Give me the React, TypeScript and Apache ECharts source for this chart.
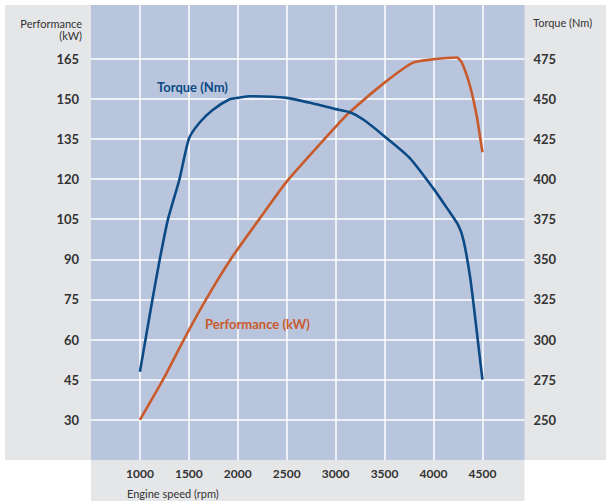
import React, { useEffect, useRef } from "react";
import * as echarts from "echarts";

// Performance (kW) curve: engine speed (rpm) and power
const perfRpm = [1000, 1236, 1449, 1676, 1946, 2220, 2500, 3000, 3146, 3500, 3786, 4000, 4238, 4289, 4374, 4442, 4500];
const perfKW = [30, 45, 60, 75, 91, 105, 119, 139.5, 145, 156, 163.4, 164.7, 165.4, 163.5, 154.6, 143.4, 130];

// Torque (Nm) curve
const torqueRpm = [1000, 1057, 1128, 1203, 1287, 1405, 1500, 1608, 1743, 1912, 2000, 2130, 2500, 2770, 3000, 3146, 3282, 3500, 3758, 4000, 4136, 4255, 4306, 4374, 4425, 4500];
const torqueNm = [280, 300, 325, 350, 375, 400, 425, 435, 443, 449.5, 450.5, 451.5, 450.5, 447, 443.5, 441.5, 437, 426.5, 413, 394, 382, 371, 362, 339, 314, 275];

// Tick labels
const xTicks = [1000, 1500, 2000, 2500, 3000, 3500, 4000, 4500];
const perfTicks = [30, 45, 60, 75, 90, 105, 120, 135, 150, 165];
const torqueTicks = [250, 275, 300, 325, 350, 375, 400, 425, 450, 475];

const BLUE = "#0b4a85";
const ORANGE = "#c95a2b";
const FONT = "Lato, 'Noto Sans', sans-serif";

export default function App() {
  const ref = useRef<HTMLDivElement>(null);
  useEffect(() => {
    if (!ref.current) return;
    const chart = echarts.init(ref.current, undefined, { renderer: "svg" });
    const labelStyle = {
      color: "#333",
      fontFamily: FONT,
      fontSize: 13,
      fontWeight: "bold" as const,
    };
    chart.setOption({
      animation: false,
      backgroundColor: "#ffffff",
      grid: { left: 91, right: 81.5, top: 5, bottom: 41, containLabel: false, show: false },
      xAxis: {
        type: "value",
        min: 500,
        max: 4930,
        interval: 500,
        axisLine: { show: false },
        axisTick: { show: false },
        splitLine: { show: false },
        z: 3,
        axisLabel: {
          ...labelStyle,
          fontSize: 12,
          margin: 7,
          showMinLabel: true,
          showMaxLabel: true,
          formatter: (v: number) => (xTicks.includes(v) ? String(v) : ""),
        },
      },
      yAxis: [
        {
          type: "value",
          min: 15,
          max: 185,
          interval: 15,
          position: "left",
          axisLine: { show: false },
          axisTick: { show: false },
          splitLine: { show: false },
          z: 3,
          axisLabel: {
            ...labelStyle,
            margin: 12,
            formatter: (v: number) => (perfTicks.includes(v) ? String(v) : ""),
          },
        },
        {
          type: "value",
          min: 225,
          max: 225 + (170 * 5) / 3,
          interval: 25,
          position: "right",
          axisLine: { show: false },
          axisTick: { show: false },
          splitLine: { show: false },
          z: 3,
          axisLabel: {
            ...labelStyle,
            margin: 9,
            formatter: (v: number) => (torqueTicks.includes(v) ? String(v) : ""),
          },
        },
      ],
      graphic: [
        { type: "rect", z: 0, silent: true, shape: { x: 5, y: 5, width: 601, height: 455 }, style: { fill: "#e5e6e8" } },
        { type: "rect", z: 0, silent: true, shape: { x: 91, y: 460, width: 433.5, height: 41 }, style: { fill: "#e5e6e8" } },
        { type: "rect", z: 0.5, silent: true, shape: { x: 91, y: 5, width: 433.5, height: 455 }, style: { fill: "#b9c5dd" } },
        {
          type: "text", z: 4, x: 82, y: 23,
          style: { text: "Performance", fill: "#333", font: `11px ${FONT}`, align: "right", verticalAlign: "middle" },
        },
        {
          type: "text", z: 4, x: 82, y: 35,
          style: { text: "(kW)", fill: "#333", font: `11px ${FONT}`, align: "right", verticalAlign: "middle" },
        },
        {
          type: "text", z: 4, x: 533, y: 22,
          style: { text: "Torque (Nm)", fill: "#333", font: `11px ${FONT}`, align: "left", verticalAlign: "middle" },
        },
        {
          type: "text", z: 4, x: 127, y: 493,
          style: { text: "Engine speed (rpm)", fill: "#333", font: `11px ${FONT}`, align: "left", verticalAlign: "middle" },
        },
        {
          type: "text", z: 4, x: 157, y: 87,
          style: { text: "Torque (Nm)", fill: BLUE, font: `bold 13px ${FONT}`, align: "left", verticalAlign: "middle" },
        },
        {
          type: "text", z: 4, x: 205, y: 324,
          style: { text: "Performance (kW)", fill: ORANGE, font: `bold 13px ${FONT}`, align: "left", verticalAlign: "middle" },
        },
      ],
      series: [
        {
          name: "grid",
          type: "line",
          data: [],
          yAxisIndex: 0,
          silent: true,
          z: 1,
          markLine: {
            z: 1,
            silent: true,
            symbol: ["none", "none"],
            label: { show: false },
            lineStyle: { color: "#ffffff", width: 1.5, type: "solid", opacity: 1 },
            emphasis: { disabled: true },
            data: [
              ...perfTicks.map((v) => ({ yAxis: v })),
              ...xTicks.map((v) => ({ xAxis: v })),
            ],
          },
        },
        {
          name: "Performance (kW)",
          type: "line",
          yAxisIndex: 0,
          z: 2,
          symbol: "none",
          smooth: 0.2,
          lineStyle: { color: ORANGE, width: 2.6 },
          data: perfRpm.map((r, i) => [r, perfKW[i]]),
        },
        {
          name: "Torque (Nm)",
          type: "line",
          yAxisIndex: 1,
          z: 2,
          symbol: "none",
          smooth: 0.2,
          lineStyle: { color: BLUE, width: 2.6 },
          data: torqueRpm.map((r, i) => [r, torqueNm[i]]),
        },
      ],
    });
    return () => chart.dispose();
  }, []);
  return (
    <div
      ref={ref}
      style={{ position: "absolute", left: 0, top: 0, width: 606, height: 501 }}
    />
  );
}
